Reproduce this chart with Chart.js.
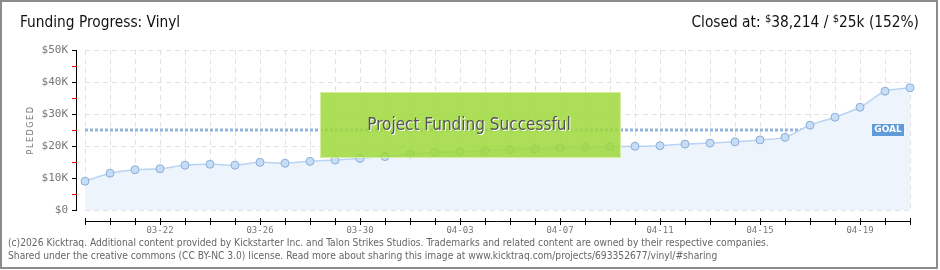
<!DOCTYPE html>
<html>
<head>
<meta charset="utf-8">
<script src="https://cdn.jsdelivr.net/npm/chart.js@4.4.1/dist/chart.umd.min.js"></script>
<style>
  body { margin: 0; background: #fff; }
  #wrap { position: relative; width: 940px; height: 270px; overflow: hidden; background: #fff; }
  #frame { position: absolute; left: 0; top: 0; width: 938px; height: 269px; border: 2px solid #8c8c8c; box-sizing: border-box; pointer-events: none; }
  canvas { position: absolute; left: 0; top: 0; }
  .t { position: absolute; font-family: "Liberation Sans Narrow", "DejaVu Sans Condensed", sans-serif; white-space: nowrap; }
  #title { left: 20px; top: 13px; font-size: 15.3px; color: #111; }
  #closed { right: 21px; top: 13px; font-size: 15.3px; color: #111; }
  #closed sup { font-size: 11px; vertical-align: 5px; line-height: 0; }
  #ylab { left: 0; top: 124px; width: 60px; line-height: 12px; text-align: center; font-size: 9px; color: #777; letter-spacing: 1.5px; transform: rotate(-90deg); }
  #foot { left: 8px; top: 236px; font-size: 10.2px; color: #666; line-height: 13px; }
</style>
</head>
<body>
<div id="wrap">
  <canvas id="chart" width="940" height="270"></canvas>
  <div class="t" id="title">Funding Progress: Vinyl</div>
  <div class="t" id="closed">Closed at: <sup>$</sup>38,214 / <sup>$</sup>25k (152%)</div>
  <div class="t" id="ylab">PLEDGED</div>
  <div class="t" id="foot">(c)2026 Kicktraq. Additional content provided by Kickstarter Inc. and Talon Strikes Studios. Trademarks and related content are owned by their respective companies.<br>Shared under the creative commons (CC BY-NC 3.0) license. Read more about sharing this image at www.kicktraq.com/projects/693352677/vinyl/#sharing</div>
  <div id="frame"></div>
</div>
<script>
const dates = ['03-19','03-20','03-21','03-22','03-23','03-24','03-25','03-26','03-27','03-28','03-29','03-30','03-31',
  '04-01','04-02','04-03','04-04','04-05','04-06','04-07','04-08','04-09','04-10','04-11','04-12','04-13','04-14','04-15',
  '04-16','04-17','04-18','04-19','04-20','04-21'];
const pledged = [9000, 11500, 12600, 12900, 14000, 14300, 14000, 14900, 14600, 15200, 15600, 16100, 16700,
  17500, 18000, 18200, 18500, 18800, 19100, 19400, 19600, 19800, 19900, 20100, 20600, 20900, 21300, 21900,
  22700, 26500, 29000, 32100, 37100, 38214];
const goal = 25000;
const yTicks = [0, 10000, 20000, 30000, 40000, 50000];
const labelEvery = 4; // 03-22, 03-26, ...

// axes lines, tick marks, banner and goal tag
const extras = {
  id: 'extras',
  afterDatasetsDraw(chart) {
    const ctx = chart.ctx;
    const x = chart.scales.x, y = chart.scales.y;
    const area = chart.chartArea;
    ctx.save();

    // y axis
    const ax = area.left - 9;
    ctx.strokeStyle = '#000';
    ctx.lineWidth = 1;
    ctx.beginPath();
    ctx.moveTo(ax + 0.5, y.getPixelForValue(50000));
    ctx.lineTo(ax + 0.5, y.getPixelForValue(0));
    ctx.stroke();
    for (let v = 0; v <= 50000; v += 5000) {
      const py = Math.round(y.getPixelForValue(v)) + 0.5;
      ctx.strokeStyle = v % 10000 === 0 ? '#000' : '#e00';
      ctx.beginPath();
      ctx.moveTo(ax - 4, py);
      ctx.lineTo(ax + 1, py);
      ctx.stroke();
    }

    // x axis
    const ay = area.bottom + 11;
    ctx.strokeStyle = '#000';
    ctx.beginPath();
    ctx.moveTo(x.getPixelForValue(0), ay + 0.5);
    ctx.lineTo(x.getPixelForValue(dates.length - 1), ay + 0.5);
    ctx.stroke();
    dates.forEach((d, i) => {
      const px = Math.round(x.getPixelForValue(i)) + 0.5;
      ctx.beginPath();
      ctx.moveTo(px, ay - 3);
      ctx.lineTo(px, ay + 4);
      ctx.stroke();
    });

    // success banner
    ctx.fillStyle = 'rgba(158, 216, 58, 0.85)';
    ctx.fillRect(320, 92, 301, 66);
    ctx.strokeStyle = 'rgba(220, 240, 170, 0.9)';
    ctx.strokeRect(320.5, 92.5, 300, 65);
    ctx.font = '17px "Liberation Sans Narrow", "DejaVu Sans Condensed", sans-serif';
    ctx.textAlign = 'center';
    ctx.textBaseline = 'middle';
    ctx.fillStyle = '#fff';
    ctx.fillText('Project Funding Successful', 470, 127);
    ctx.fillStyle = '#555';
    ctx.fillText('Project Funding Successful', 469, 126);

    // goal tag
    const gy = y.getPixelForValue(goal);
    ctx.fillStyle = '#5e9bd8';
    ctx.fillRect(872, gy - 6, 32, 12);
    ctx.fillStyle = '#fff';
    ctx.font = 'bold 9px "DejaVu Sans", sans-serif';
    ctx.fillText('GOAL', 888, gy);
    ctx.restore();
  }
};

new Chart(document.getElementById('chart'), {
  type: 'line',
  data: {
    labels: dates,
    datasets: [
      {
        label: 'Pledged',
        data: pledged,
        order: 0,
        borderColor: '#b9d4f3',
        borderWidth: 1.5,
        backgroundColor: '#edf4fc',
        fill: 'origin',
        tension: 0.25,
        pointRadius: 4,
        pointBackgroundColor: '#c6ddf7',
        pointBorderColor: '#8eaed6',
        pointBorderWidth: 1
      },
      {
        label: 'Goal',
        data: dates.map(() => goal),
        order: 1,
        borderColor: '#93b4dc',
        borderWidth: 3,
        borderDash: [3, 2],
        pointRadius: 0,
        fill: false,
        tension: 0
      }
    ]
  },
  options: {
    responsive: false,
    animation: false,
    layout: { padding: { top: 50, right: 30, bottom: 30, left: 0 } },
    plugins: { legend: { display: false }, tooltip: { enabled: false } },
    scales: {
      x: {
        offset: false,
        afterFit(scale) { scale.height = 30; },
        grid: { color: '#e2e2e2', drawTicks: false },
        border: { display: false, dash: [5, 4] },
        ticks: {
          autoSkip: false,
          maxRotation: 0,
          padding: 15,
          color: '#777',
          font: { size: 9, family: '"DejaVu Sans Mono", monospace' },
          callback: (v, i) => (i % labelEvery === 3 ? dates[i] : '')
        }
      },
      y: {
        min: 0,
        max: 50000,
        afterFit(scale) { scale.width = 85; },
        afterBuildTicks(scale) { scale.ticks = yTicks.map(v => ({ value: v })); },
        grid: { color: '#e2e2e2', drawTicks: false },
        border: { display: false, dash: [5, 4] },
        ticks: {
          padding: 17,
          color: '#777',
          font: { size: 11, family: '"DejaVu Sans Mono", monospace' },
          callback: v => (v === 0 ? '$0' : '$' + v / 1000 + 'K')
        }
      }
    }
  },
  plugins: [extras]
});
</script>
</body>
</html>
